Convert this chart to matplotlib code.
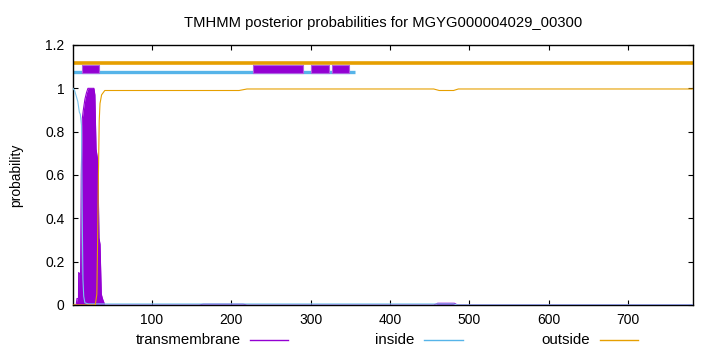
import matplotlib
matplotlib.use("Agg")
import matplotlib.pyplot as plt
from matplotlib.lines import Line2D

plt.rcParams['font.family'] = ['Liberation Sans', 'DejaVu Sans']

title = "TMHMM posterior probabilities for MGYG000004029_00300"
seq_len = 781

# transmembrane posterior (position, probability)
tm_x = [1, 5, 6, 7.9, 8.1, 10.5, 11.4, 12.7, 14, 16, 18, 19.8, 27.3, 28.5, 30, 31.6, 32.5, 33.7, 35, 36.6, 38, 40, 41,
        160, 165, 215, 220, 455, 460, 481, 485, 781]
tm_y = [0, 0, 0.03, 0.03, 0.15, 0.14, 0.6, 0.86, 0.9, 0.95, 0.98, 1.0, 1.0, 0.97, 0.72, 0.68, 0.6, 0.31, 0.28, 0.05, 0.03, 0.01, 0.0,
        0.0, 0.004, 0.004, 0.0, 0.0, 0.008, 0.008, 0.0, 0.0]

# inside posterior
in_x = [1, 3, 7, 9, 10.2, 11.7, 12.5, 13.5, 14.5, 16, 20, 480, 485, 781]
in_y = [1.0, 0.99, 0.94, 0.89, 0.88, 0.83, 0.45, 0.12, 0.04, 0.01, 0.005, 0.005, 0.0, 0.0]

# outside posterior
out_x = [1, 29, 31, 32, 33, 34, 35, 37, 41, 210, 220, 455, 462, 480, 486, 781]
out_y = [0.0, 0.0, 0.05, 0.3, 0.6, 0.85, 0.93, 0.97, 0.99, 0.99, 0.997, 0.997, 0.99, 0.99, 0.997, 0.997]

# topology summary lines
outside_span = (1, 781)
inside_span = (1, 356)
tm_boxes = [(12.2, 33.6), (228, 290), (301, 323), (327, 349)]

c_tm = "#9400d3"
c_in = "#56b4e9"
c_out = "#e69f00"

fig = plt.figure(figsize=(7.2, 3.52), dpi=100)
ax = fig.add_axes([73/720, 1-305/352, (692.7-73)/720, 260/352])

# top summary
ax.plot(outside_span, [1.116, 1.116], color=c_out, lw=2.6, solid_capstyle='butt')
ax.plot(inside_span, [1.074, 1.074], color=c_in, lw=2.4, solid_capstyle='butt')
for a, b in tm_boxes:
    ax.fill_between([a, b], 1.069, 1.107, color=c_tm, edgecolor="#b060e0", lw=0.8, zorder=3)

# posterior curves
ax.fill_between(tm_x, 0, tm_y, color=c_tm, lw=0, zorder=2)
ax.plot(tm_x, tm_y, color=c_tm, lw=0.8, zorder=2)
ax.plot(in_x, in_y, color="#7cc4ec", lw=0.8, zorder=3)
ax.plot(out_x, out_y, color=c_out, lw=0.8, zorder=3)

ax.set_xlim(1, seq_len)
ax.set_ylim(0, 1.2)
ax.set_xticks([100, 200, 300, 400, 500, 600, 700])
ax.set_yticks([0, 0.2, 0.4, 0.6, 0.8, 1.0, 1.2])
ax.set_yticklabels(["0", "0.2", "0.4", "0.6", "0.8", "1", "1.2"])
ax.tick_params(direction='in', top=True, right=True, length=3.5, width=0.8, labelsize=10, pad=6)
for s in ax.spines.values():
    s.set_linewidth(1.0)
ax.set_ylabel("probability", fontsize=10, labelpad=16)
ax.set_title(title, fontsize=10.6, pad=13)

# legend at bottom
ly = 1 - 340/352
entries = [("transmembrane", 241, 250, 288, c_tm), ("inside", 414, 424, 463, c_in), ("outside", 590, 600, 638, c_out)]
for label, tx, l0, l1, col in entries:
    fig.text(tx/720, ly, label, ha='right', va='center', fontsize=10.8)
    fig.add_artist(Line2D([l0/720, l1/720], [ly, ly], color=col, lw=1.0, transform=fig.transFigure))

fig.savefig("out.png", dpi=100)
